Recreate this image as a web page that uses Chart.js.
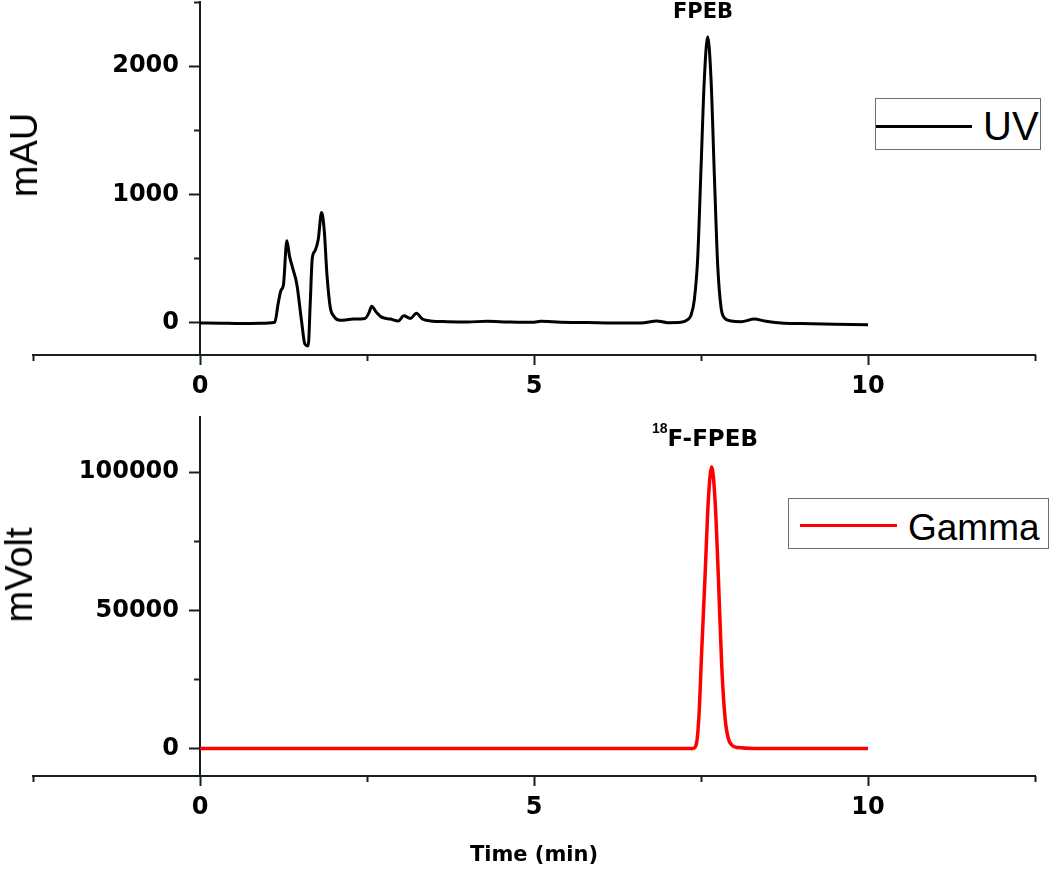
<!DOCTYPE html>
<html>
<head>
<meta charset="utf-8">
<title>FPEB HPLC</title>
<script src="https://cdn.jsdelivr.net/npm/chart.js@4.4.1/dist/chart.umd.min.js"></script>
<style>
    body { margin: 0; background: #fff; }
    #page { position: relative; width: 1050px; height: 870px; overflow: hidden; }
    canvas { position: absolute; left: 0; }
    .axisTitle { position: absolute; font-family: 'Liberation Sans', Arial, sans-serif; font-size: 38px; line-height: 1; white-space: nowrap; color: #000; transform: translate(-50%, -50%) rotate(-90deg); }
    .peak { position: absolute; font-family: 'DejaVu Sans', sans-serif; font-weight: bold; line-height: 1; white-space: nowrap; color: #000; }
    .peak .iso { position: relative; font-family: 'Liberation Sans', Arial, sans-serif; font-size: 14px; top: -13px; }
    .legend { position: absolute; box-sizing: border-box; border: 1px solid #6e6e6e; background: #fff; }
    .legend .line { position: absolute; height: 3px; }
    .legend .label { position: absolute; font-family: 'Liberation Sans', Arial, sans-serif; line-height: 1; white-space: nowrap; color: #000; }
</style>
</head>
<body>
<div id="page">
    <canvas id="uvChart" width="1050" height="415" style="top:0"></canvas>
    <canvas id="gammaChart" width="1050" height="455" style="top:415px"></canvas>

    <div class="axisTitle" style="left:23.5px; top:155px">mAU</div>
    <div class="axisTitle" style="left:18.5px; top:575px">mVolt</div>

    <div class="peak" style="left:673px; top:0.5px; font-size:21px">FPEB</div>
    <div class="peak" style="left:652px; top:427px; font-size:23px"><span class="iso">18</span>F-FPEB</div>

    <div class="legend" style="left:875px; top:98px; width:166px; height:52px">
        <div class="line" id="uvSwatch" style="left:0; top:25.5px; width:96px"></div>
        <div class="label" style="left:107px; top:7px; font-size:40px">UV</div>
    </div>
    <div class="legend" style="left:788px; top:498px; width:261px; height:51px">
        <div class="line" id="gammaSwatch" style="left:11px; top:25px; width:97px"></div>
        <div class="label" style="left:119px; top:9.5px; font-size:37px">Gamma</div>
    </div>
</div>

<script>
// axe du temps (min)
const xMajorTicks = [0, 5, 10];
const xMinorTicks = [-2.5, 2.5, 7.5, 12.5];

// trace UV (mAU)
const uvTime = [0, 0.3, 0.6, 0.9, 1.12, 1.17, 1.21, 1.25, 1.30, 1.34, 1.38, 1.45, 1.52, 1.57,
    1.62, 1.65, 1.68, 1.72, 1.77, 1.82, 1.86, 1.90, 1.95, 2.00, 2.10, 2.30, 2.47, 2.53, 2.57,
    2.63, 2.72, 2.85, 2.97, 3.05, 3.15, 3.24, 3.33, 3.45, 3.70, 4.00, 4.30, 4.60, 5.00, 5.10,
    5.40, 5.80, 6.20, 6.60, 6.84, 7.00, 7.20, 7.30, 7.35, 7.40, 7.45, 7.50, 7.55, 7.60, 7.65,
    7.70, 7.75, 7.80, 7.85, 7.95, 8.10, 8.30, 8.45, 8.70, 9.00, 9.50, 10.0];
const uvSignal = [0, -2, -5, -3, 5, 150, 250, 300, 640, 520, 440, 300, 15, -165,
    -180, 150, 500, 560, 650, 860, 720, 380, 120, 55, 20, 30, 35, 80, 130,
    90, 45, 30, 15, 55, 35, 75, 30, 15, 10, 8, 12, 8, 5, 12,
    5, 3, 0, 0, 15, 2, 5, 25, 60, 180, 500, 1200, 1900, 2230, 1900,
    1150, 450, 120, 40, 15, 10, 30, 15, 0, -5, -10, -15];
const uvMajorTicks = [0, 1000, 2000];
const uvMinorTicks = [500, 1500, 2500];

// trace gamma (mVolt)
const gammaTime = [0, 1, 2, 3, 4, 5, 6, 7, 7.38, 7.43, 7.47, 7.51, 7.56, 7.61, 7.66,
    7.71, 7.76, 7.81, 7.86, 7.91, 7.97, 8.05, 8.30, 9.00, 10.0];
const gammaSignal = [0, 0, 0, 0, 0, 0, 0, 0, 0, 1500, 12000, 35000, 62000, 90000, 102000,
    90000, 62000, 30000, 11000, 3500, 1000, 300, 0, 0, 0];
const gammaMajorTicks = [0, 50000, 100000];
const gammaMinorTicks = [25000, 75000];

const AXIS_COLOR = '#17211c';
const UV_COLOR = '#000000';
const GAMMA_COLOR = '#ff0000';
const tickFont = { family: "'DejaVu Sans', sans-serif", weight: 'bold', size: 24 };

function setTicks(values) {
    return scale => { scale.ticks = values.map(v => ({ value: v })); };
}

function noPadding(scale) {
    scale.paddingLeft = 0;
    scale.paddingRight = 0;
    scale.paddingTop = 0;
    scale.paddingBottom = 0;
}

function createChart(canvasId, opts) {
    const ctx = document.getElementById(canvasId).getContext('2d');

    return new Chart(ctx, {
        type: 'line',
        data: {
            datasets: [{
                label: opts.label,
                data: opts.times.map((t, i) => ({ x: t, y: opts.values[i] })),
                xAxisID: 'x',
                yAxisID: 'y',
                borderColor: opts.color,
                borderWidth: opts.lineWidth,
                pointRadius: 0,
                cubicInterpolationMode: 'monotone',
                fill: false,
            }],
        },
        options: {
            responsive: false,
            animation: false,
            devicePixelRatio: 1,
            layout: { padding: { left: 33, right: 15, top: 2, bottom: 0 } },
            plugins: {
                legend: { display: false },
                tooltip: { enabled: false },
            },
            scales: {
                // l'axe x couvre toute la largeur (-2.5 à 12.5), l'axe y se trouve à t = 0
                x: {
                    type: 'linear',
                    axis: 'x',
                    position: 'bottom',
                    fullSize: true,
                    min: -2.5,
                    max: 12.5,
                    afterBuildTicks: setTicks(xMajorTicks),
                    afterFit: scale => {
                        noPadding(scale);
                        scale.height = opts.xHeight;
                    },
                    border: { display: true, color: AXIS_COLOR, width: 2 },
                    grid: { drawOnChartArea: false, tickLength: 10, tickWidth: 2, tickColor: AXIS_COLOR },
                    ticks: { font: tickFont, color: '#000', padding: 7, maxRotation: 0, autoSkip: false, callback: v => String(v) },
                    title: {
                        display: !!opts.xTitle,
                        text: opts.xTitle || '',
                        color: '#000',
                        font: { family: "'DejaVu Sans', sans-serif", weight: 'bold', size: 21 },
                        padding: { top: 0, bottom: 2 },
                    },
                },
                xMinor: {
                    type: 'linear',
                    axis: 'x',
                    position: { y: opts.yMin },
                    fullSize: true,
                    min: -2.5,
                    max: 12.5,
                    afterBuildTicks: setTicks(xMinorTicks),
                    afterFit: noPadding,
                    border: { display: false },
                    grid: { drawOnChartArea: false, tickLength: 6, tickWidth: 2, tickColor: AXIS_COLOR },
                    ticks: { display: false },
                },
                y: {
                    type: 'linear',
                    axis: 'y',
                    position: 'left',
                    min: opts.yMin,
                    max: opts.yMax,
                    afterBuildTicks: setTicks(opts.yMajor),
                    afterFit: scale => {
                        noPadding(scale);
                        scale.width = 167;
                    },
                    border: { display: true, color: AXIS_COLOR, width: 2 },
                    grid: { drawOnChartArea: false, tickLength: 11, tickWidth: 2, tickColor: AXIS_COLOR },
                    ticks: { font: tickFont, color: '#000', padding: 10, callback: v => String(v) },
                },
                yMinor: {
                    type: 'linear',
                    axis: 'y',
                    position: { x: 0 },
                    min: opts.yMin,
                    max: opts.yMax,
                    afterBuildTicks: setTicks(opts.yMinor),
                    afterFit: noPadding,
                    border: { display: false },
                    grid: { drawOnChartArea: false, tickLength: 6, tickWidth: 2, tickColor: AXIS_COLOR },
                    ticks: { display: false },
                },
            },
        },
    });
}

createChart('uvChart', {
    label: 'UV',
    times: uvTime,
    values: uvSignal,
    color: UV_COLOR,
    lineWidth: 3,
    yMin: -250,
    yMax: 2500,
    yMajor: uvMajorTicks,
    yMinor: uvMinorTicks,
    xHeight: 60,
});

createChart('gammaChart', {
    label: 'Gamma',
    times: gammaTime,
    values: gammaSignal,
    color: GAMMA_COLOR,
    lineWidth: 3.5,
    yMin: -10000,
    yMax: 120000,
    yMajor: gammaMajorTicks,
    yMinor: gammaMinorTicks,
    xHeight: 94,
    xTitle: 'Time (min)',
});

document.getElementById('uvSwatch').style.background = UV_COLOR;
document.getElementById('gammaSwatch').style.background = GAMMA_COLOR;
</script>
</body>
</html>
